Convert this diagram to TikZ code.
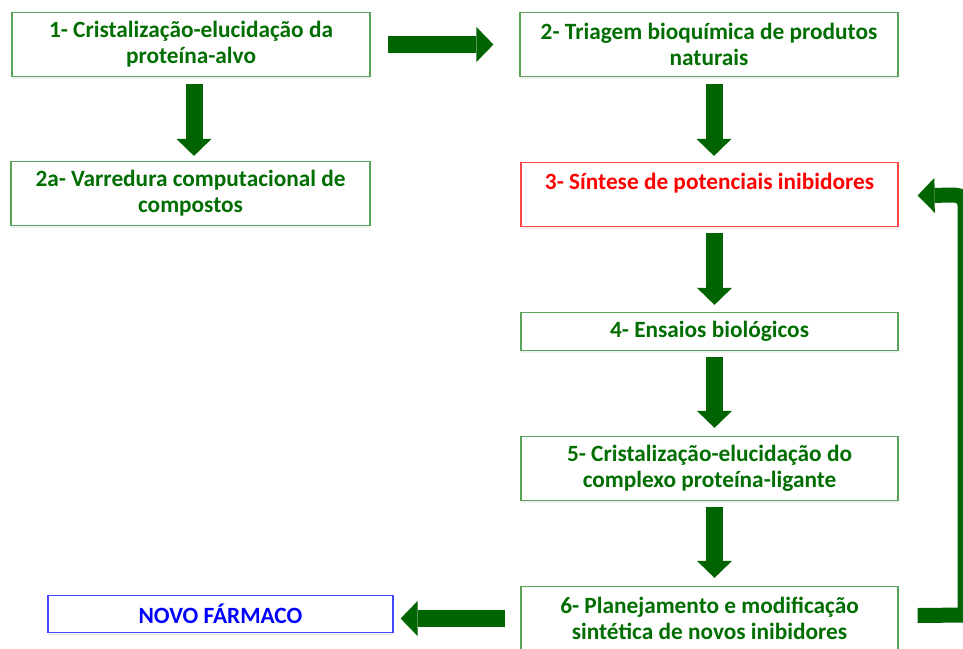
\documentclass[tikz,border=0pt]{standalone}
\usepackage{fontspec}
\setmainfont{Carlito}
\usetikzlibrary{arrows.meta,shadows}
\definecolor{txtgreen}{RGB}{0,110,0}
\definecolor{boxgreen}{RGB}{90,165,90}
\definecolor{arrowgreen}{RGB}{0,100,0}
\definecolor{boxred}{RGB}{255,70,70}
\definecolor{boxblue}{RGB}{70,70,255}
\begin{document}
\begin{tikzpicture}[x=1pt, y=-1pt,
	box/.style={draw=boxgreen, line width=1.2pt, fill=white, text=txtgreen, align=center,
		inner sep=0pt, font=\bfseries\fontsize{23.3}{26}\selectfont,
		drop shadow={shadow xshift=0pt, shadow yshift=-2pt, opacity=0.12}},
	bigarrow/.style={draw=arrowgreen, line width=17pt,
		-{Triangle[length=17pt, width=35pt, line width=0pt]}}]
	\useasboundingbox (0,0) rectangle (963,648);
	\clip (0,0) rectangle (963,648);
	\node [box, minimum width=358pt, minimum height=64pt] (b1) at (191,44.5) {1- Cristalização-elucidação da\\proteína-alvo};
	\node [box, minimum width=359pt, minimum height=64pt] (b2a) at (190.5,193.5) {2a- Varredura computacional de\\compostos};
	\node [box, minimum width=378pt, minimum height=64pt] (b2) at (709,44.5) {2- Triagem bioquímica de produtos\\naturais};
	\node [box, draw=boxred, text=red, minimum width=377pt, minimum height=64pt] (b3) at (709.5,194.5) {3- Síntese de potenciais inibidores\\ \mbox{}};
	\node [box, minimum width=377pt, minimum height=38pt] (b4) at (709.5,331.5) {4- Ensaios biológicos};
	\node [box, minimum width=377pt, minimum height=64pt] (b5) at (709.5,468.5) {5- Cristalização-elucidação do\\complexo proteína-ligante};
	\node [box, minimum width=377pt, minimum height=64pt] (b6) at (709.5,618.5) {6- Planejamento e modificação\\sintética de novos inibidores};
	\node [box, draw=boxblue, text=blue, minimum width=345pt, minimum height=37pt] (novo) at (220.5,614) {NOVO FÁRMACO};
	\draw [bigarrow] ([xshift=17pt]b1.east) -- ([xshift=-26pt]b2.west);
	\draw [bigarrow] ([xshift=3pt,yshift=-7pt]b1.south) -- ([xshift=3.5pt,yshift=5pt]b2a.north);
	\draw [bigarrow] ([xshift=5pt,yshift=-7pt]b2.south) -- ([xshift=4.5pt,yshift=6pt]b3.north);
	\draw [bigarrow] ([xshift=5pt,yshift=-6pt]b3.south) -- ([xshift=5pt,yshift=7pt]b4.north);
	\draw [bigarrow] ([xshift=5pt,yshift=-6pt]b4.south) -- ([xshift=5pt,yshift=8pt]b5.north);
	\draw [bigarrow] ([xshift=5pt,yshift=-6pt]b5.south) -- ([xshift=5pt,yshift=8pt]b6.north);
	\draw [bigarrow] ([xshift=-15pt]b6.west) -- ([xshift=7pt]novo.east |- b6.west);
	\draw [bigarrow, line width=15pt] ([xshift=19pt,yshift=3pt]b6.east) -- (965,615)
		[rounded corners=10pt] -- (965,195) -- ([xshift=19pt,yshift=-1pt]b3.east);
\end{tikzpicture}
\end{document}
